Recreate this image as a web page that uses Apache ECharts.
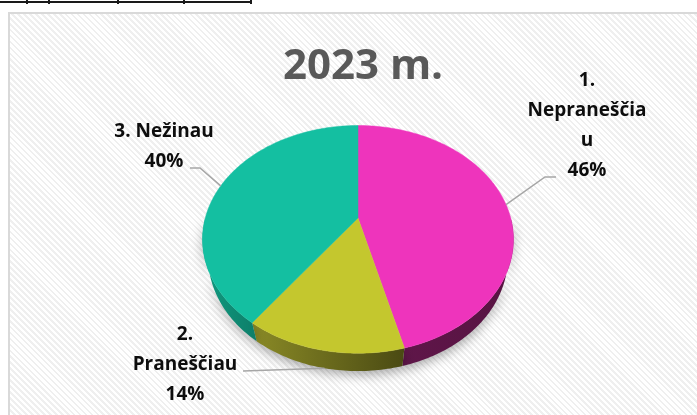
<!DOCTYPE html>
<html><head><meta charset="utf-8">
<script src="https://cdn.jsdelivr.net/npm/echarts@6/dist/echarts.min.js"></script>
<style>
html,body{margin:0;padding:0;width:697px;height:415px;overflow:hidden;background:#fff;}
#frame{position:absolute;left:8px;top:12px;width:720px;height:440px;border:2px solid #d9d9d9;box-sizing:border-box;
 background:repeating-linear-gradient(45deg,#ffffff 0px,#ffffff 2.3px,#efefef 2.3px,#efefef 4.2px);}
#chart{position:absolute;left:0;top:0;width:697px;height:415px;}
.tl{position:absolute;background:#1a1a1a;}
</style></head>
<body>
<div id="frame"></div>
<div class="tl" style="left:0;top:1px;width:252px;height:2px"></div>
<div class="tl" style="left:26px;top:0;width:2px;height:4px"></div>
<div class="tl" style="left:48px;top:0;width:2px;height:4px"></div>
<div class="tl" style="left:117px;top:0;width:2px;height:4px"></div>
<div class="tl" style="left:183px;top:0;width:2px;height:4px"></div>
<div class="tl" style="left:250px;top:0;width:2px;height:4px"></div>
<div id="chart"></div>
<script>
// ---- data ----
const titleText = '2023 m.';
const categories = ['1. Nepraneščiau', '2. Praneščiau', '3. Nežinau'];
const labelNames = ['1.\nNepraneščia\nu', '2.\nPraneščiau', '3. Nežinau'];
const values = [46, 14, 40];

// ---- style / layout ----
const topColors = ['#EE34BC', '#C4C72E', '#14BFA1'];
const sideColors = [['#5f1649', '#571342'], ['#8a8a26', '#4a4a13'], ['#119a80', '#0d7e69']];
const labelLayout = [
  {x: 587, y: 126, pts: [[545, 177], [556, 177]], anchorDepth: 0},
  {x: 185, y: 365, pts: [[243, 371]], anchorDepth: 1},
  {x: 164, y: 147, pts: [[200, 168], [190, 168]], anchorDepth: 0}
];
const P = {cx: 358, cy: 218, F: 565, D: 3.7, alpha: 46 * Math.PI / 180, h: 0.19};

function proj(tDeg, r, depth) {
  const t = tDeg * Math.PI / 180;
  const s = Math.sin(P.alpha), c = Math.cos(P.alpha);
  const X = r * Math.sin(t), Z = -r * Math.cos(t), H = depth * P.h;
  const d = P.D - Z * c + H * s;
  return [P.cx + P.F * X / d, P.cy + P.F * (Z * s + H * c) / d];
}
function arc(t0, t1, depth) {
  const pts = [];
  const n = Math.max(2, Math.ceil(Math.abs(t1 - t0)));
  for (let k = 0; k <= n; k++) pts.push(proj(t0 + (t1 - t0) * k / n, 1, depth));
  return pts;
}

const total = values.reduce((a, b) => a + b, 0);
let acc = 0;
const sliceData = values.map(v => { const d = [acc, v]; acc += v; return d; });

function angles(api) {
  const st = api.value(0), v = api.value(1);
  return [st / total * 360, (st + v) / total * 360];
}

function renderWall(params, api) {
  const [a0, a1] = angles(api);
  const t0 = Math.max(a0, 90), t1 = Math.min(a1, 270);
  if (t1 <= t0) return {type: 'group', children: []};
  const topA = arc(t0, t1, 0), botA = arc(t1, t0, 1);
  const xs = topA.concat(botA).map(p => p[0]);
  const i = params.dataIndex;
  return {
    type: 'polygon',
    shape: {points: topA.concat(botA)},
    style: {
      fill: new echarts.graphic.LinearGradient(Math.min(...xs), 0, Math.max(...xs), 0,
        [{offset: 0, color: sideColors[i][0]}, {offset: 1, color: sideColors[i][1]}], true),
      shadowColor: 'rgba(0,0,0,0.33)', shadowBlur: 11, shadowOffsetY: 4
    }
  };
}

function renderTop(params, api) {
  const [a0, a1] = angles(api);
  const i = params.dataIndex;
  const pts = [proj(0, 0, 0)].concat(arc(a0, a1, 0));
  const L = labelLayout[i];
  const mid = (a0 + a1) / 2;
  const anchor = proj(mid, 1, L.anchorDepth);
  const line = [anchor].concat(L.pts);
  return {
    type: 'group',
    children: [
      {type: 'polygon', shape: {points: pts}, style: {fill: topColors[i], stroke: topColors[i], lineWidth: 0.5}},
      {type: 'polyline', shape: {points: line}, style: {stroke: '#a6a6a6', lineWidth: 1.5, fill: null}},
      {type: 'text', x: L.x, y: L.y, style: {
        text: labelNames[i] + '\n' + api.value(1) + '%',
        fill: '#0d0d0d', font: 'bold 19px "Open Sans"', lineHeight: 30,
        align: 'center', verticalAlign: 'middle'}}
    ]
  };
}

const chart = echarts.init(document.getElementById('chart'), null, {renderer: 'canvas'});
chart.setOption({
  backgroundColor: 'transparent',
  animation: false,
  title: {text: titleText, left: 358, top: 62, textAlign: 'center', textVerticalAlign: 'middle',
    textStyle: {fontFamily: 'Open Sans', fontWeight: 'bold', fontSize: 42, color: '#595959'}},
  series: [
    {type: 'custom', name: 'side', coordinateSystem: 'none', data: sliceData, renderItem: renderWall, z: 1},
    {type: 'custom', name: 'top', coordinateSystem: 'none',
      data: sliceData.map((d, k) => ({name: categories[k], value: d})), renderItem: renderTop, z: 2}
  ]
});
</script>
</body></html>
